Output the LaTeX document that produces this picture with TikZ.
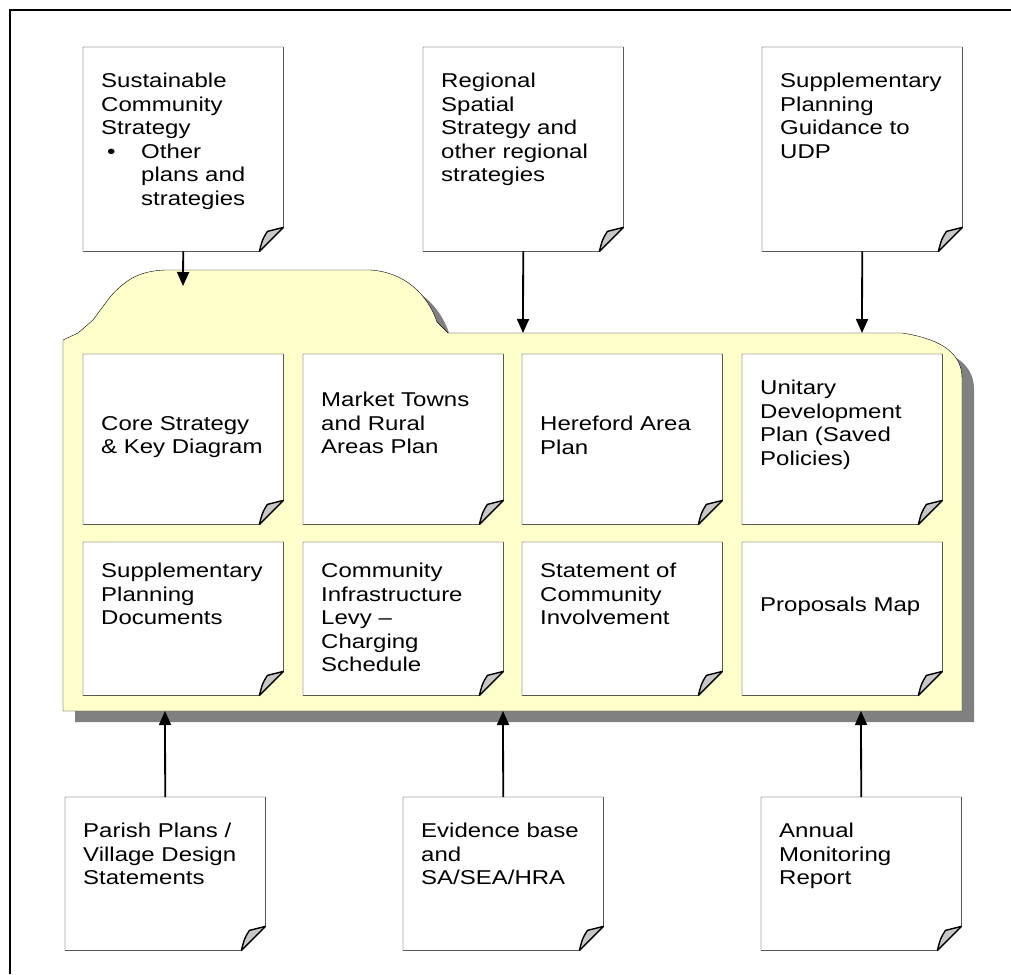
\documentclass[tikz,border=0pt]{standalone}
\usepackage{fontspec}
\setmainfont{Liberation Sans}[FakeStretch=1.2]
\usetikzlibrary{arrows.meta}
\definecolor{folderyellow}{HTML}{FFFFCC}
\definecolor{shadowgrey}{HTML}{808080}
\tikzset{
	,line width = 2pt
	,font = \fontsize{20}{23.5}\selectfont
	,mydoc/.style   = {rectangle, anchor=north west, minimum width=200pt, inner sep=0pt}
	,mytext/.style  = {anchor=north west, align=left, inner sep=0pt}
	,mypage/.style  = {draw=black, fill=white, line join=miter}
	,myfold/.style  = {draw=black, fill=black!22, line join=round, line width=1.4pt}
	,myfolder/.style = {draw=black, fill=folderyellow, line join=round}
	,edger/.style   = {-{Triangle[length=14pt, width=12pt]}, line width=1.8pt}
}

\begin{document}
\begin{tikzpicture}[x=1pt, y=-1pt]
		\useasboundingbox (0,0) rectangle (1011,974);
		% frame
		\draw[line width=2.2pt] (10,974) -- (10,10) -- (1011,10);
		% folder with its shadow
		\def\folderpath{(63,711) -- (63,340) -- (78,333) -- (93,320) -- (110,297)
			.. controls (126,279) and (140,271) .. (165,270) -- (370,270)
			.. controls (405,272) and (428,295) .. (437,322) -- (448,333) -- (902,333)
			.. controls (935,338) and (962,350) .. (962,378) -- (962,711) -- cycle}
		\fill[shadowgrey, shift={(12,11)}] \folderpath;
		\draw[myfolder] \folderpath;
		% the pages
		\node[mydoc, minimum height=204pt] at (83,47)   (sus) {};
		\node[mydoc, minimum height=204pt] at (423,47)  (rss) {};
		\node[mydoc, minimum height=204pt] at (762,47)  (spg) {};
		\node[mydoc, minimum height=170pt] at (83,354)  (core) {};
		\node[mydoc, minimum height=170pt] at (303,354) (mkt) {};
		\node[mydoc, minimum height=170pt] at (522,354) (her) {};
		\node[mydoc, minimum height=170pt] at (742,354) (udp) {};
		\node[mydoc, minimum height=153pt] at (83,542)  (spd) {};
		\node[mydoc, minimum height=153pt] at (303,542) (cil) {};
		\node[mydoc, minimum height=153pt] at (522,542) (sci) {};
		\node[mydoc, minimum height=153pt] at (742,542) (map) {};
		\node[mydoc, minimum height=153pt] at (65,797)  (par) {};
		\node[mydoc, minimum height=153pt] at (403,797) (evi) {};
		\node[mydoc, minimum height=153pt] at (761,797) (amr) {};
		\foreach \n in {sus,rss,spg,core,mkt,her,udp,spd,cil,sci,map,par,evi,amr} {
			\draw[mypage] (\n.north west) -- (\n.north east) -- ([yshift=24pt]\n.south east)
				-- ([xshift=-24pt]\n.south east) -- (\n.south west) -- cycle;
			\draw[myfold] ([xshift=-24pt]\n.south east)
				.. controls ([xshift=-21pt,yshift=12pt]\n.south east) .. ([xshift=-16pt,yshift=20pt]\n.south east)
				-- ([yshift=24pt]\n.south east) -- cycle;
		}
		% texts
		\node[mytext] at ([shift={(18,26)}]sus.north west) (sus-t)
			{Sustainable\\Community\\Strategy\\\makebox[40pt][l]{\hspace{6pt}\textbullet}Other\\\hspace*{40pt}plans and\\\hspace*{40pt}strategies};
		\node[mytext] at ([shift={(18,26)}]rss.north west) (rss-t)
			{Regional\\Spatial\\Strategy and\\other regional\\strategies};
		\node[mytext] at ([shift={(18,26)}]spg.north west) (spg-t)
			{Supplementary\\Planning\\Guidance to\\UDP};
		\node[mytext] at ([shift={(18,62)}]core.north west) (core-t) {Core Strategy\\\& Key Diagram};
		\node[mytext] at ([shift={(18,38)}]mkt.north west)  (mkt-t)  {Market Towns\\and Rural\\Areas Plan};
		\node[mytext] at ([shift={(18,62)}]her.north west)  (her-t)  {Hereford Area\\Plan};
		\node[mytext] at ([shift={(18,26)}]udp.north west)  (udp-t)  {Unitary\\Development\\Plan (Saved\\Policies)};
		\node[mytext] at ([shift={(18,21)}]spd.north west)  (spd-t)  {Supplementary\\Planning\\Documents};
		\node[mytext] at ([shift={(18,21)}]cil.north west)  (cil-t)  {Community\\Infrastructure\\Levy --\\Charging\\Schedule};
		\node[mytext] at ([shift={(18,21)}]sci.north west)  (sci-t)  {Statement of\\Community\\Involvement};
		\node[mytext] at ([shift={(18,55)}]map.north west)  (map-t)  {Proposals Map};
		\node[mytext] at ([shift={(18,26)}]par.north west)  (par-t)  {Parish Plans /\\Village Design\\Statements};
		\node[mytext] at ([shift={(18,26)}]evi.north west)  (evi-t)  {Evidence base\\and\\SA/SEA/HRA};
		\node[mytext] at ([shift={(18,26)}]amr.north west)  (amr-t)  {Annual\\Monitoring\\Report};
		% arrows into the folder
		\coordinate (tab)   at (183,286);
		\coordinate (ftop2) at (523,333);
		\coordinate (ftop3) at (862,333);
		\coordinate (fbot1) at (165,711);
		\coordinate (fbot2) at (503,711);
		\coordinate (fbot3) at (861,711);
		\draw[edger] (sus.south) -- (tab);
		\draw[edger] (rss.south) -- (ftop2);
		\draw[edger] (spg.south) -- (ftop3);
		\draw[edger] (par.north) -- (fbot1);
		\draw[edger] (evi.north) -- (fbot2);
		\draw[edger] (amr.north) -- (fbot3);
	\end{tikzpicture}
\end{document}
